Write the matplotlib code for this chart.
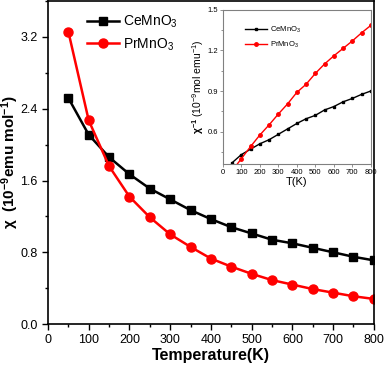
import numpy as np
import matplotlib
matplotlib.use('Agg')
import matplotlib.pyplot as plt
from matplotlib.ticker import MultipleLocator

plt.rcParams['font.family'] = ['Liberation Sans', 'DejaVu Sans']
plt.rcParams['mathtext.fontset'] = 'custom'
plt.rcParams['mathtext.rm'] = 'Liberation Sans'
plt.rcParams['mathtext.bf'] = 'Liberation Sans:bold'
plt.rcParams['mathtext.it'] = 'Liberation Sans:italic'

# temperatures (K)
temps = [50, 100, 150, 200, 250, 300, 350, 400, 450, 500, 550, 600, 650, 700, 750, 800]

# susceptibility chi (10^-9 emu/mol)
chi_ce = [2.52, 2.11, 1.86, 1.67, 1.51, 1.39, 1.27, 1.17, 1.08, 1.01, 0.94, 0.90, 0.85, 0.80, 0.75, 0.71]
chi_pr = [3.26, 2.27, 1.76, 1.42, 1.19, 1.00, 0.86, 0.73, 0.64, 0.56, 0.49, 0.44, 0.39, 0.35, 0.31, 0.28]

# inverse susceptibility (inset)
inv_ce = [0.37, 0.43, 0.47, 0.51, 0.54, 0.58, 0.62, 0.66, 0.695, 0.72, 0.76, 0.785, 0.82, 0.845, 0.875, 0.90]
inv_pr = [0.31, 0.40, 0.49, 0.575, 0.65, 0.73, 0.805, 0.89, 0.95, 1.03, 1.10, 1.16, 1.215, 1.27, 1.33, 1.385]

labels = ['CeMnO$_3$', 'PrMnO$_3$']

fig = plt.figure(figsize=(3.87, 3.67), dpi=100)
ax = fig.add_axes([0.124, 0.117, 0.842, 0.880])

ax.plot(temps, chi_ce, color='black', marker='s', markersize=5.5, linewidth=1.8, label=labels[0])
ax.plot(temps, chi_pr, color='red', marker='o', markersize=6.5, linewidth=1.8, label=labels[1])

ax.set_xlim(0, 800)
ax.set_ylim(0, 3.6)
ax.xaxis.set_major_locator(MultipleLocator(100))
ax.xaxis.set_minor_locator(MultipleLocator(50))
ax.yaxis.set_major_locator(MultipleLocator(0.8))
ax.yaxis.set_minor_locator(MultipleLocator(0.4))
ax.tick_params(which='both', direction='out', labelsize=9, width=1)
ax.tick_params(which='major', length=4)
ax.tick_params(which='minor', length=2.5)
for s in ax.spines.values():
    s.set_linewidth(1.2)

ax.set_xlabel('Temperature(K)', fontsize=11.5, fontweight='bold', labelpad=1)
ax.set_ylabel(r'$\mathbf{\chi}$  (10$^{\mathbf{-9}}$emu mol$^{\mathbf{-1}}$)', fontsize=11,
              fontweight='bold')
ax.yaxis.set_label_coords(-0.084, 0.5)

ax.legend(loc='upper left', bbox_to_anchor=(0.08, 1.0), frameon=False, fontsize=10,
          handlelength=2.3, handletextpad=0.3, labelspacing=0.45)

# inset
ins = fig.add_axes([0.576, 0.553, 0.382, 0.420])
ins.plot(temps, inv_ce, color='black', marker='s', markersize=2.0, linewidth=1, label=labels[0])
ins.plot(temps, inv_pr, color='red', marker='o', markersize=2.5, linewidth=1, label=labels[1])
ins.set_xlim(0, 800)
ins.set_ylim(0.36, 1.5)
ins.xaxis.set_major_locator(MultipleLocator(100))
ins.yaxis.set_major_locator(MultipleLocator(0.3))
ins.yaxis.set_minor_locator(MultipleLocator(0.15))
ins.tick_params(which='both', direction='out', labelsize=5.5, width=0.6, pad=1.5, color='gray')
ins.tick_params(which='major', length=2)
ins.tick_params(which='minor', length=1.2)
for s in ins.spines.values():
    s.set_color('gray')
    s.set_linewidth(0.8)
ins.set_xlabel('T(K)', fontsize=8, labelpad=1)
ins.set_ylabel(r'$\mathbf{\chi}^{\mathbf{-1}}$ (10$^{-9}$mol emu$^{-1}$)', fontsize=7.5, labelpad=1)
ins.legend(loc='upper left', bbox_to_anchor=(0.1, 0.95), frameon=False, fontsize=5.5,
           handlelength=3, handletextpad=0.3, labelspacing=0.7)

fig.savefig('out.png', dpi=100)
